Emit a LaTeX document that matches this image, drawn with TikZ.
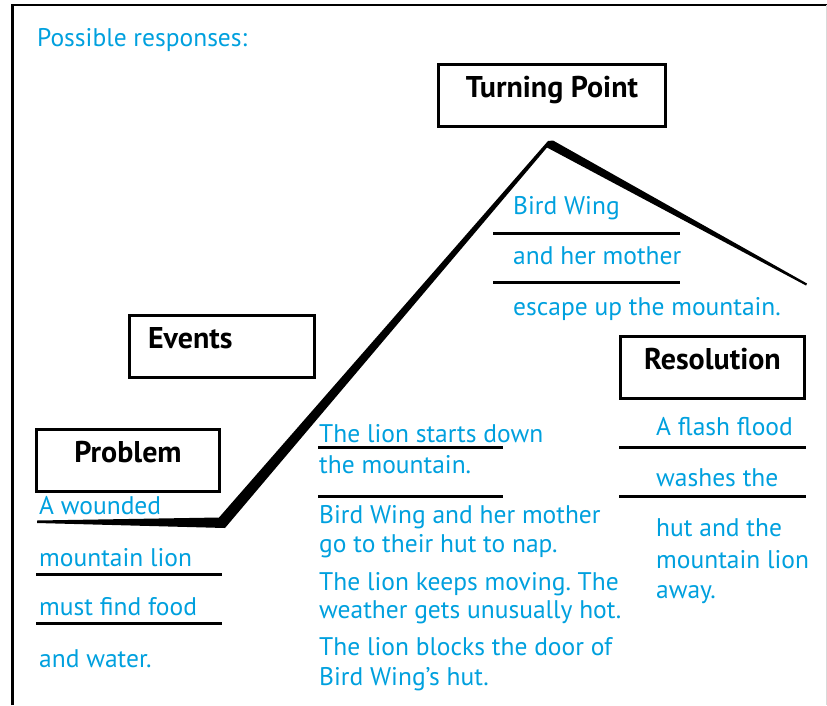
\documentclass[tikz,border=0pt]{standalone}
\usepackage{fontspec}
\setmainfont{PT Sans}
\usetikzlibrary{positioning}
\definecolor{answerblue}{RGB}{0,160,222}
\frenchspacing

\tikzset{
	stage/.style={draw, line width=3pt, inner sep=0pt, text height=33pt, text depth=29pt, anchor=base, font=\fontsize{30}{30}\selectfont\bfseries},
	answer/.style={text=answerblue, inner sep=0pt, anchor=base west, font=\fontsize{25.5}{25.5}\selectfont},
	blank/.style={line width=3pt}
}

\begin{document}
\begin{tikzpicture}[x=1pt, y=-1pt]
		\useasboundingbox (0,0) rectangle (827,705);
		% frame
		\draw[line width=2.5pt] (12.5,705) -- (12.5,5) -- (827,5);
		\draw[black!15, line width=1pt] (826,5) -- (826,705);

		\node[answer] (possible) at (37,46) {Possible responses:};

		% the plot line
		\fill (37,520.5) -- (219,517.5) -- (548,141) -- (553,140.5) -- (807,283.5)
			-- (806,285.5) -- (547,147.5) -- (225,528) -- (37,523) -- cycle;

		% stage boxes
		\node[stage, minimum width=227pt] (turning) at (552,97) {Turning Point};
		\node[stage, text width=147pt, inner xsep=19pt, align=left] (events) at (221.5,348) {Events};
		\node[stage, minimum width=183pt] (problem) at (128,462) {Problem};
		\node[stage, minimum width=184pt] (resolution) at (712.5,369) {Resolution};

		% problem
		\node[answer] (prob1) at (39,514) {A wounded};
		\node[answer] (prob2) at (39,566) {mountain lion};
		\node[answer] (prob3) at (39,615) {must find food};
		\node[answer] (prob4) at (39,667) {and water.};
		\draw[blank] (36,574) -- (222,574);
		\draw[blank] (36,623) -- (222,623);

		% events
		\node[answer] (ev1) at (319,442) {The lion starts down};
		\node[answer] (ev2) at (319,473) {the mountain.};
		\node[answer] (ev3) at (319,523) {Bird Wing and her mother};
		\node[answer] (ev4) at (319,552) {go to their hut to nap.};
		\node[answer] (ev5) at (319,590) {The lion keeps moving. The};
		\node[answer] (ev6) at (319,618) {weather gets unusually hot.};
		\node[answer] (ev7) at (319,655) {The lion blocks the door of};
		\node[answer] (ev8) at (319,685) {Bird Wing’s hut.};
		\draw[blank] (318,447.5) -- (503,447.5);
		\draw[blank] (318,496.5) -- (503,496.5);

		% turning point
		\node[answer] (turn1) at (513,214) {Bird Wing};
		\node[answer] (turn2) at (513,264) {and her mother};
		\node[answer] (turn3) at (513,315) {escape up the mountain.};
		\draw[blank] (493,233) -- (680,233);
		\draw[blank] (493,282.5) -- (680,282.5);

		% resolution
		\node[answer] (res1) at (656,435) {A flash flood};
		\node[answer] (res2) at (656,486) {washes the};
		\node[answer] (res3) at (656,536) {hut and the};
		\node[answer] (res4) at (656,568) {mountain lion};
		\node[answer] (res5) at (656,598) {away.};
		\draw[blank] (619,447.5) -- (806,447.5);
		\draw[blank] (619,496.5) -- (806,496.5);
\end{tikzpicture}
\end{document}
